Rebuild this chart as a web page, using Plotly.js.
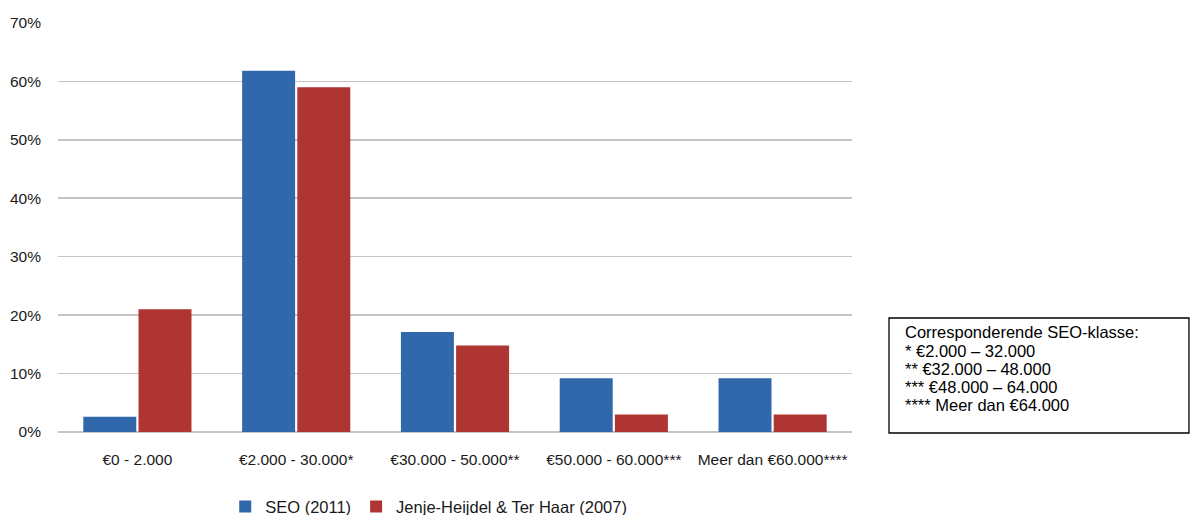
<!DOCTYPE html>
<html>
<head>
<meta charset="utf-8">
<script src="https://cdn.plot.ly/plotly-3.0.1.min.js"></script>
<style>html,body{margin:0;padding:0;background:#fff;}#chart{width:1191px;height:515px;}</style>
</head>
<body>
<div id="chart"></div>
<script>
const categories = ["€0 - 2.000", "€2.000 - 30.000*", "€30.000 - 50.000**", "€50.000 - 60.000***", "Meer dan €60.000****"];
const seo2011 = [0.026, 0.618, 0.171, 0.092, 0.092];
const jenje2007 = [0.21, 0.59, 0.148, 0.03, 0.03];
const seriesNames = ["SEO (2011)", "Jenje-Heijdel & Ter Haar (2007)"];
const yTicks = [0, 0.1, 0.2, 0.3, 0.4, 0.5, 0.6, 0.7];
const yTickLabels = ["0%", "10%", "20%", "30%", "40%", "50%", "60%", "70%"];
const noteLines = ["Corresponderende SEO-klasse:", "* €2.000 – 32.000", "** €32.000 – 48.000", "*** €48.000 – 64.000", "**** Meer dan €64.000"];

const traces = [
  {type: "bar", x: categories, y: seo2011, name: seriesNames[0], marker: {color: "#3168AB"}, hoverinfo: "skip"},
  {type: "bar", x: categories, y: jenje2007, name: seriesNames[1], marker: {color: "#AE3532"}, hoverinfo: "skip"}
];

// note box placement (paper coordinates; plot area is 794 x 410 px)
const boxLeft = 1.0466, boxRight = 1.4244, boxTop = 0.278, boxBottom = -0.0024;
const textLeft = 1.0642, firstLineY = 0.2430, lineStep = 18.2 / 410;

const annotations = noteLines.map((t, i) => ({
  xref: "paper", yref: "paper", x: textLeft, y: firstLineY - i * lineStep,
  xanchor: "left", yanchor: "middle", text: t, showarrow: false, align: "left",
  font: {family: "Liberation Sans, Arial, sans-serif", size: 16.5, color: "#000"}
}));

const layout = {
  width: 1191, height: 515,
  margin: {l: 58, r: 339, t: 22, b: 83},
  paper_bgcolor: "#fff", plot_bgcolor: "#fff",
  font: {family: "Liberation Sans, Arial, sans-serif", color: "#000"},
  barmode: "group", bargap: 0.305, bargroupgap: 0.04,
  xaxis: {
    type: "category", showgrid: false, showline: false, ticks: "", automargin: false,
    tickfont: {family: "Liberation Sans, Arial, sans-serif", size: 15.5, color: "#1a1a1a"},
    ticklabelstandoff: 16
  },
  yaxis: {
    range: [0, 0.7015], tickvals: yTicks, ticktext: yTickLabels, automargin: false,
    showgrid: true, gridcolor: "#C4C4C4", gridwidth: 1.5,
    zeroline: true, zerolinecolor: "#C4C4C4", zerolinewidth: 1.5,
    showline: false, ticks: "",
    tickfont: {family: "Liberation Sans, Arial, sans-serif", size: 15.5, color: "#1a1a1a"},
    ticklabelstandoff: 16
  },
  showlegend: true,
  legend: {
    orientation: "h", xref: "paper", yref: "container", x: 0.2106, y: 0.016,
    xanchor: "left", yanchor: "middle",
    font: {family: "Liberation Sans, Arial, sans-serif", size: 16.5, color: "#1a1a1a"},
    itemwidth: 30, tracegroupgap: 0
  },
  shapes: [{
    type: "rect", xref: "paper", yref: "paper",
    x0: boxLeft, x1: boxRight, y0: boxBottom, y1: boxTop,
    line: {color: "#000", width: 1.3}, fillcolor: "rgba(0,0,0,0)"
  }],
  annotations: annotations
};

Plotly.newPlot("chart", traces, layout, {displayModeBar: false, staticPlot: true});
</script>
</body>
</html>
